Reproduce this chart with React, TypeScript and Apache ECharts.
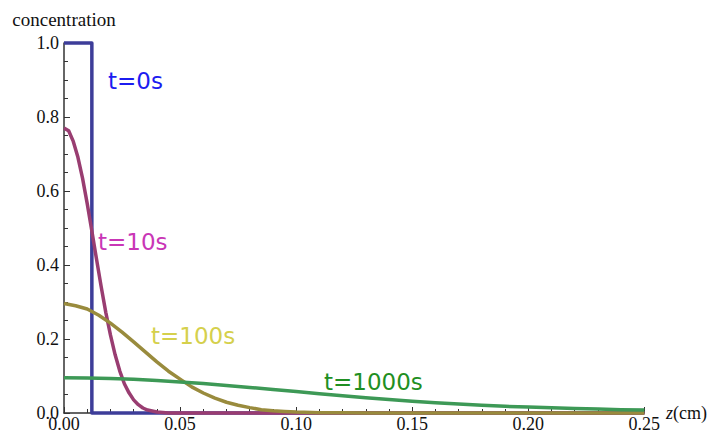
import React, { useEffect, useRef } from "react";
import * as echarts from "echarts";

// t = 0 s (initial step profile)
const z0 = [0, 0.012, 0.012, 0.25];
const c0 = [1.0, 1.0, 0.0, 0.0];

// t = 10 s
const z10 = [0, 0.002, 0.004, 0.006, 0.008, 0.01, 0.012, 0.014, 0.016, 0.018, 0.02, 0.022, 0.024, 0.026, 0.028, 0.03, 0.032, 0.034, 0.036, 0.04, 0.045, 0.05, 0.25];
const c10 = [0.77, 0.763, 0.734, 0.691, 0.634, 0.566, 0.492, 0.416, 0.342, 0.272, 0.211, 0.158, 0.114, 0.079, 0.0545, 0.0355, 0.0225, 0.0135, 0.008, 0.0025, 0.0003, 0, 0];

// t = 100 s
const z100 = [0, 0.005, 0.01, 0.015, 0.02, 0.025, 0.03, 0.035, 0.04, 0.045, 0.05, 0.055, 0.06, 0.065, 0.07, 0.075, 0.08, 0.085, 0.09, 0.095, 0.1, 0.11, 0.12, 0.13, 0.25];
const c100 = [0.296, 0.29, 0.281, 0.264, 0.243, 0.2185, 0.192, 0.165, 0.138, 0.113, 0.0915, 0.0705, 0.054, 0.04, 0.029, 0.021, 0.0145, 0.009, 0.006, 0.004, 0.0025, 0.001, 0.0005, 0, 0];

// t = 1000 s
const z1000 = [0, 0.01, 0.02, 0.03, 0.04, 0.05, 0.06, 0.07, 0.08, 0.09, 0.1, 0.11, 0.12, 0.13, 0.14, 0.15, 0.16, 0.17, 0.18, 0.19, 0.2, 0.21, 0.22, 0.23, 0.24, 0.25];
const c1000 = [0.095, 0.0946, 0.0932, 0.0909, 0.0879, 0.084, 0.0796, 0.0746, 0.0692, 0.0636, 0.0579, 0.0522, 0.0466, 0.0413, 0.0365, 0.032, 0.028, 0.024, 0.021, 0.018, 0.016, 0.014, 0.012, 0.0105, 0.009, 0.008];

const xTicks = ["0.00", "0.05", "0.10", "0.15", "0.20", "0.25"];
const yTicks = ["0.0", "0.2", "0.4", "0.6", "0.8", "1.0"];

const labels = [
  { text: "t=0s", color: "#1c1cf0" },
  { text: "t=10s", color: "#c936b6" },
  { text: "t=100s", color: "#d5d04c" },
  { text: "t=1000s", color: "#1f8f22" },
];

const pair = (xs: number[], ys: number[]) => xs.map((x, i) => [x, ys[i]]);

export default function App() {
  const ref = useRef<HTMLDivElement>(null);
  useEffect(() => {
    if (!ref.current) return;
    const chart = echarts.init(ref.current, null, { renderer: "svg" });
    const serif = "Liberation Serif";
    const axisColor = "#333";
    const lw = 3.5;
    const labelPos = [
      [108, 83],
      [98, 244],
      [151, 338],
      [324, 384],
    ];
    chart.setOption({
      animation: false,
      backgroundColor: "#fff",
      grid: { left: 64, right: 59, top: 43, bottom: 23, containLabel: false },
      xAxis: {
        type: "value",
        min: 0,
        max: 0.25,
        interval: 0.05,
        name: "{i|z}{n|(cm)}",
        nameLocation: "end",
        nameGap: 1,
        nameTextStyle: {
          fontFamily: serif,
          fontSize: 18,
          color: "#111",
          rich: {
            i: { fontFamily: serif, fontSize: 18, fontStyle: "italic", color: "#111" },
            n: { fontFamily: serif, fontSize: 18, color: "#111" },
          },
        },
        axisLine: { show: true, lineStyle: { color: axisColor, width: 1.5 } },
        axisTick: { show: true, inside: true, length: 6, lineStyle: { color: axisColor } },
        minorTick: { show: true, splitNumber: 5, length: 4, lineStyle: { color: axisColor } },
        splitLine: { show: false },
        axisLabel: {
          fontFamily: serif,
          fontSize: 18,
          color: "#111",
          margin: 2,
          formatter: (v: number) => xTicks[Math.round(v / 0.05)] ?? v.toFixed(2),
        },
      },
      yAxis: {
        type: "value",
        min: 0,
        max: 1,
        interval: 0.2,
        name: "concentration",
        nameLocation: "end",
        nameGap: 14,
        nameTextStyle: { fontFamily: serif, fontSize: 19, color: "#111" },
        axisLine: { show: true, lineStyle: { color: axisColor, width: 1.5 } },
        axisTick: { show: true, inside: true, length: 6, lineStyle: { color: axisColor } },
        minorTick: { show: true, splitNumber: 4, length: 4, lineStyle: { color: axisColor } },
        splitLine: { show: false },
        axisLabel: {
          fontFamily: serif,
          fontSize: 18,
          color: "#111",
          margin: 5,
          formatter: (v: number) => yTicks[Math.round(v / 0.2)] ?? v.toFixed(1),
        },
      },
      series: [
        { data: pair(z0, c0), color: "#3d3d99" },
        { data: pair(z10, c10), color: "#993d71" },
        { data: pair(z100, c100), color: "#998b3d" },
        { data: pair(z1000, c1000), color: "#3d9956" },
      ].map((s) => ({
        type: "line",
        data: s.data,
        showSymbol: false,
        smooth: false,
        clip: false,
        lineStyle: { color: s.color, width: lw, join: "round", cap: "butt" },
        itemStyle: { color: s.color },
      })),
      graphic: labels.map((l, i) => ({
        type: "text",
        left: labelPos[i][0],
        top: labelPos[i][1] - 14,
        style: { text: l.text, fill: l.color, fontFamily: "DejaVu Sans", fontSize: 23 },
      })),
    });
    return () => chart.dispose();
  }, []);
  return (
    <div
      ref={ref}
      style={{ position: "fixed", left: 0, top: 0, width: 710, height: 436, background: "#fff" }}
    />
  );
}
